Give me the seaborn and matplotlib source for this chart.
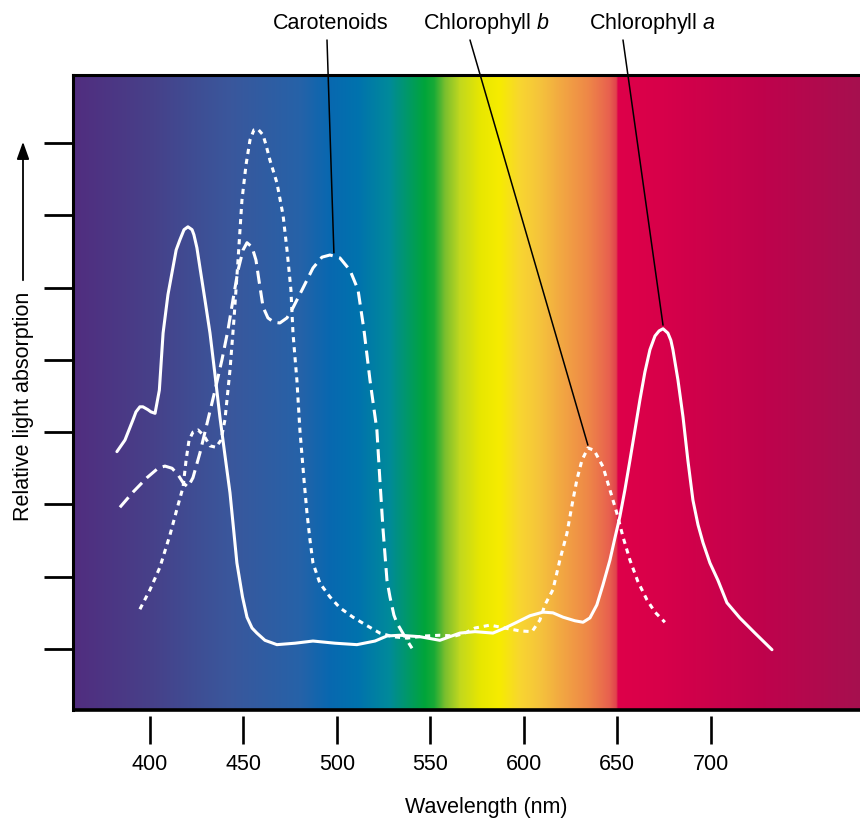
import numpy as np
import pandas as pd
import matplotlib
matplotlib.use("Agg")
import matplotlib.pyplot as plt
from matplotlib.colors import LinearSegmentedColormap
import seaborn as sns

# ---------------- data ----------------
chl_a_nm = [382.3, 386.6, 390.9, 392.5, 394.6, 396.2, 398.9, 400.5, 402.7, 405.0, 407.0, 409.6,
            412.3, 414.0, 416.0, 418.2, 420.3, 422.5, 423.5, 425.1, 426.7, 429.4, 432.1, 434.8,
            437.4, 440.1, 442.8, 446.5, 449.5, 451.9, 454.6, 457.2, 461.5, 467.9, 477.6, 487.2,
            499.0, 510.7, 520.4, 526.8, 533.8, 544.4, 555.1, 565.8, 573.9, 583.5, 589.9, 596.3,
            603.3, 610.3, 615.6, 621.0, 627.4, 631.7, 635.4, 639.1, 642.4, 646.1, 648.8, 651.4,
            654.1, 656.8, 659.5, 662.1, 664.8, 667.5, 670.2, 672.4, 674.5, 677.1, 678.7, 679.8,
            682.5, 685.2, 687.8, 690.5, 693.2, 695.9, 699.6, 703.9, 708.7, 715.6, 723.7, 732.8]
chl_a_abs = [3.73, 3.89, 4.17, 4.28, 4.35, 4.35, 4.31, 4.28, 4.26, 4.58, 5.37, 5.90,
             6.28, 6.52, 6.66, 6.80, 6.84, 6.80, 6.73, 6.55, 6.28, 5.83, 5.37, 4.79,
             4.21, 3.68, 3.16, 2.19, 1.72, 1.44, 1.29, 1.22, 1.12, 1.06, 1.08, 1.11,
             1.08, 1.06, 1.11, 1.18, 1.19, 1.17, 1.12, 1.22, 1.24, 1.22, 1.29, 1.37,
             1.46, 1.51, 1.50, 1.44, 1.39, 1.37, 1.43, 1.61, 1.89, 2.23, 2.54, 2.83,
             3.20, 3.61, 4.03, 4.44, 4.83, 5.14, 5.33, 5.40, 5.43, 5.37, 5.27, 5.14,
             4.72, 4.21, 3.61, 3.06, 2.72, 2.47, 2.19, 1.95, 1.64, 1.43, 1.22, 0.99]

chl_b_nm = [394.6, 400.0, 405.3, 410.7, 415.0, 417.7, 419.3, 420.9, 423.0, 425.7, 428.9, 432.1,
            435.3, 438.0, 440.1, 442.8, 444.9, 447.1, 449.2, 451.4, 453.5, 455.6, 457.8, 460.5,
            462.1, 464.2, 467.9, 471.2, 473.3, 475.4, 476.5, 478.6, 480.2, 482.4, 484.0, 485.6,
            487.2, 490.9, 496.3, 501.6, 508.6, 515.6, 523.0, 530.0, 537.5, 547.1, 555.1, 563.2,
            568.5, 573.9, 581.9, 589.9, 597.9, 604.4, 608.6, 611.3, 615.6, 619.3, 623.1, 625.8,
            628.4, 631.1, 634.3, 637.6, 642.4, 646.1, 649.8, 653.1, 656.8, 661.1, 665.9, 670.2,
            675.5]
chl_b_abs = [1.55, 1.82, 2.13, 2.58, 2.99, 3.24, 3.61, 3.89, 4.00, 4.03, 3.95, 3.81,
             3.79, 3.89, 4.17, 4.86, 5.55, 6.38, 7.21, 7.70, 8.04, 8.18, 8.19, 8.11,
             7.97, 7.76, 7.45, 7.00, 6.52, 5.97, 5.37, 4.72, 4.03, 3.34, 2.88, 2.51,
             2.19, 1.91, 1.72, 1.57, 1.44, 1.33, 1.22, 1.17, 1.15, 1.18, 1.19, 1.18,
             1.22, 1.29, 1.33, 1.29, 1.25, 1.24, 1.40, 1.61, 1.82, 2.23, 2.60, 2.99,
             3.34, 3.61, 3.78, 3.75, 3.52, 3.20, 2.88, 2.55, 2.23, 1.93, 1.68, 1.51,
             1.37]

carot_nm = [383.9, 390.9, 398.4, 404.3, 408.0, 411.8, 415.0, 417.7, 420.3, 423.0, 426.7, 431.0,
            434.8, 438.5, 441.7, 444.4, 447.1, 449.8, 451.9, 454.6, 456.7, 458.3, 460.5, 463.1,
            466.3, 469.5, 473.3, 476.5, 481.8, 487.2, 492.0, 496.3, 501.6, 507.0, 511.3, 514.5,
            517.7, 521.4, 523.0, 524.7, 526.8, 528.4, 530.5, 532.1, 534.8, 537.5, 540.2]
carot_abs = [2.96, 3.17, 3.37, 3.50, 3.53, 3.50, 3.41, 3.30, 3.24, 3.37, 3.71, 4.17,
             4.58, 5.00, 5.41, 5.83, 6.24, 6.52, 6.62, 6.56, 6.38, 6.10, 5.73, 5.58,
             5.52, 5.51, 5.58, 5.72, 5.99, 6.27, 6.42, 6.45, 6.41, 6.24, 5.97, 5.41,
             4.72, 4.03, 3.34, 2.65, 1.95, 1.72, 1.47, 1.36, 1.24, 1.12, 1.01]

x_ticks = [400, 450, 500, 550, 600, 650, 700]
y_ticks = [1, 2, 3, 4, 5, 6, 7, 8]

labels = ["Carotenoids", "Chlorophyll $\\mathit{b}$", "Chlorophyll $\\mathit{a}$"]
label_points_nm = [498.4, 634.3, 674.5]
label_points_abs = [6.48, 3.82, 5.48]

# spectrum background stops (wavelength, colour)
spec_nm = [358.8, 400, 427, 443, 480, 496, 512, 528, 539, 547, 552, 558, 566, 577, 587,
           598, 609, 620, 635, 646, 649.6, 650.4, 673, 730, 779.9]
spec_col = ["#512D7F", "#474089", "#3E4F95", "#3A579C", "#2662A8", "#0868B0", "#0073AD",
            "#008A9A", "#009A62", "#00A53A", "#18AA36", "#7ABF2E", "#C2D81E", "#E8E700",
            "#F6EC00", "#F8D630", "#F5C33C", "#F2A842", "#EE8648", "#E8604F", "#E0424C",
            "#DE0049", "#D8004A", "#BE034C", "#A6104F"]

# ---------------- style ----------------
sns.set_theme(style="white")
plt.rcParams["font.family"] = ["Liberation Sans", "DejaVu Sans"]
plt.rcParams["mathtext.fontset"] = "custom"
plt.rcParams["mathtext.rm"] = "Liberation Sans"
plt.rcParams["mathtext.it"] = "Liberation Sans:italic"

W, H = 860, 819
fig = plt.figure(figsize=(W / 100, H / 100), dpi=100)
ax = fig.add_axes([73 / W, 1 - 710 / H, 1 - 73 / W, (710 - 75) / H])

xmin, xmax = 358.8, 779.9
ymin, ymax = 0.156, 8.94

# background spectrum
lo, hi = spec_nm[0], spec_nm[-1]
cmap = LinearSegmentedColormap.from_list(
    "spec", [((w - lo) / (hi - lo), c) for w, c in zip(spec_nm, spec_col)], N=2048)
grad = np.linspace(lo, hi, 2000)[None, :]
ax.imshow(grad, extent=[lo, hi, ymin, ymax], aspect="auto", cmap=cmap,
          vmin=lo, vmax=hi, origin="lower", zorder=0, interpolation="bilinear")

lw = 2.2
common = dict(color="white", lw=lw, estimator=None, sort=False, zorder=3,
              solid_joinstyle="round", dash_joinstyle="round")
sns.lineplot(x=chl_a_nm, y=chl_a_abs, ax=ax, solid_capstyle="round", **common)
sns.lineplot(x=carot_nm, y=carot_abs, ax=ax, linestyle=(0, (4.3, 2.2)), **common)
sns.lineplot(x=chl_b_nm, y=chl_b_abs, ax=ax, linestyle=(0, (1.7, 1.6)), **common)

ax.set_xlim(xmin, xmax)
ax.set_ylim(ymin, ymax)
ax.set_xticks(x_ticks)
ax.set_xticklabels([str(t) for t in x_ticks])
ax.set_yticks(y_ticks)
ax.set_yticklabels([])
ax.set_xlabel("")
ax.set_ylabel("")

for s in ["left", "top"]:
    ax.spines[s].set_visible(True)
    ax.spines[s].set_color("black")
    ax.spines[s].set_linewidth(2.2)
ax.spines["right"].set_visible(False)
ax.spines["bottom"].set_position(("outward", 4))
ax.spines["bottom"].set_visible(False)
ax.plot([0, 1], [0, 0], transform=ax.transAxes, color="black", lw=2.6,
        clip_on=False, zorder=5, solid_capstyle="butt")

ax.tick_params(axis="x", direction="out", length=20, width=1.9, color="black",
               pad=8, labelsize=15.5, labelcolor="black", bottom=True)
ax.tick_params(axis="y", direction="out", length=21, width=2.0, color="black",
               left=True)

# annotation labels with leader lines
label_x_px = [331, 486, 652]
line_top_px = [(327, 40), (470, 40), (623, 40)]
for lab, lx, (tx, ty), px, py in zip(labels, label_x_px, line_top_px,
                                      label_points_nm, label_points_abs):
    fig.text(lx / W, 1 - 29 / H, lab, ha="center", va="baseline", fontsize=15.5,
             color="black")
    ax.annotate("", xy=(px, py), xycoords="data",
                xytext=(tx, H - ty), textcoords="figure pixels",
                arrowprops=dict(arrowstyle="-", color="black", lw=1.1,
                                shrinkA=0, shrinkB=0),
                annotation_clip=False, zorder=4)

# axis labels
fig.text(486 / W, 1 - 808 / H, "Wavelength (nm)", ha="center", va="center",
         fontsize=15.5, color="black")
fig.text(24 / W, 1 - 406.5 / H, "Relative light absorption", ha="center", va="center",
         rotation=90, fontsize=15.5, color="black")
fig.add_artist(matplotlib.patches.FancyArrowPatch(
    (23, H - 283), (23, H - 139), transform=None,
    arrowstyle="-|>,head_length=0.7,head_width=0.25",
    mutation_scale=15, color="black", lw=1.3))

fig.savefig("out.png", dpi=100)
